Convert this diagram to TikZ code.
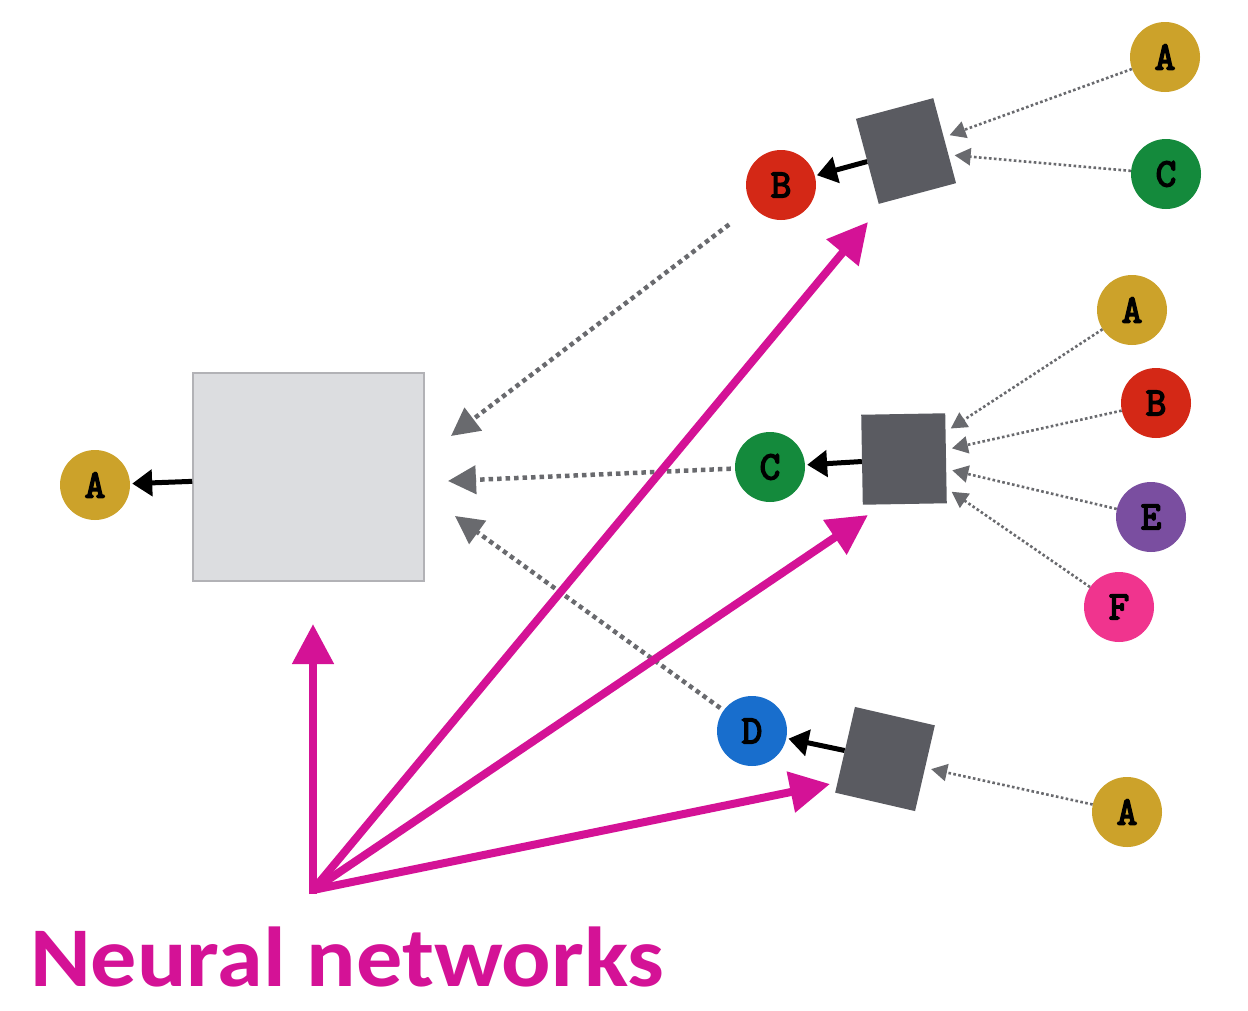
\documentclass[tikz,border=0pt]{standalone}
\usepackage{fontspec}
\setmainfont{Carlito}
\newfontfamily\circfont{Latin Modern Mono}[FakeBold=4]
\usetikzlibrary{arrows.meta}
\definecolor{cgold}{RGB}{204,162,42}
\definecolor{cred}{RGB}{212,40,22}
\definecolor{cgreen}{RGB}{20,138,60}
\definecolor{cblue}{RGB}{24,110,205}
\definecolor{cpurple}{RGB}{122,78,160}
\definecolor{cpink}{RGB}{240,52,142}
\definecolor{mag}{RGB}{212,18,150}
\definecolor{sqgray}{RGB}{90,91,97}
\definecolor{dotgray}{RGB}{105,106,110}
\tikzset{
  ball/.style={circle, minimum size=70pt, inner sep=0pt, font=\circfont\fontsize{40}{40}\selectfont},
  sq/.style={rectangle, fill=sqgray, minimum width=80pt, minimum height=88pt, inner sep=0pt},
  smalldot/.style={draw=dotgray, line width=2.6pt, dash pattern=on 2.6pt off 2.4pt, -{Triangle[length=16pt,width=17pt]}, shorten >=6pt},
  bigdot/.style={draw=dotgray, line width=4.5pt, dash pattern=on 4.5pt off 4pt, -{Triangle[length=28pt,width=28pt]}},
  blk/.style={draw=black, line width=5pt, -{Triangle[length=20pt,width=26pt]}, shorten >=2pt},
  magarrow/.style={draw=mag, line width=8pt, -{Triangle[length=40pt,width=40pt]}}
}
\begin{document}
\begin{tikzpicture}[x=1pt,y=-1pt]
\useasboundingbox[fill=white] (0,0) rectangle (1248,1010);
% big box
\node[draw={rgb,255:red,178;green,178;blue,182}, line width=1.5pt, fill={rgb,255:red,220;green,221;blue,224}, minimum width=231pt, minimum height=208pt, inner sep=0pt] (big) at (308.5,477) {};
\node[ball, fill=cgold] (A0) at (95,485) {A};
% squares
\node[sq, rotate=15] (s1) at (906,151) {};
\node[sq, minimum width=84pt, minimum height=90pt, rotate=1] (s2) at (904,459) {};
\node[sq, minimum width=82pt, minimum height=88pt, rotate=-13] (s3) at (885,759) {};
% circles
\node[ball, fill=cred] (B1) at (781,185) {B};
\node[ball, fill=cgold] (A1) at (1165,57) {A};
\node[ball, fill=cgreen] (C1) at (1166,174) {C};
\node[ball, fill=cgreen] (C2) at (770,467) {C};
\node[ball, fill=cgold] (A2) at (1132,310) {A};
\node[ball, fill=cred] (B2) at (1156,403) {B};
\node[ball, fill=cpurple] (E2) at (1151,517) {E};
\node[ball, fill=cpink] (F2) at (1119,607) {F};
\node[ball, fill=cblue] (D3) at (752,731) {D};
\node[ball, fill=cgold] (A3) at (1127,812) {A};
% small dotted arrows
\draw[smalldot] (A1) -- (s1);
\draw[smalldot] (C1) -- (s1);
\draw[smalldot] (A2) -- (s2);
\draw[smalldot] (B2) -- (s2);
\draw[smalldot] (E2) -- (s2);
\draw[smalldot] (F2) -- (s2);
\draw[smalldot] (A3) -- (s3);
% black arrows
\draw[blk] (s1) -- (B1);
\draw[blk] (s2) -- (C2);
\draw[blk] (s3) -- (D3);
\draw[blk] (big) -- (A0);
% big dotted arrows
\coordinate (tB) at (451,436);
\coordinate (tC) at (448,481);
\coordinate (tD) at (455,516);
\draw[bigdot, shorten <=30pt] (B1) -- (tB);
\draw[bigdot, shorten <=4pt] (C2) -- (tC);
\draw[bigdot, shorten <=4pt] (D3) -- (tD);
% magenta arrows
\coordinate (O) at (313,890);
\coordinate (m0) at (313,624);
\coordinate (m1) at (868,222);
\coordinate (m2) at (868,515);
\coordinate (m3) at (830,784);
\draw[magarrow] (O) -- (m1);
\draw[magarrow] (O) -- (m2);
\draw[magarrow] (O) -- (m3);
\draw[magarrow] ([yshift=-4pt]O) -- (m0);
% label
\node[anchor=base west, inner sep=0pt, text=mag, font=\bfseries\fontsize{85}{85}\selectfont] (lbl) at (30,986) {\scalebox{1.085}[1]{Neural networks}};
\end{tikzpicture}
\end{document}
